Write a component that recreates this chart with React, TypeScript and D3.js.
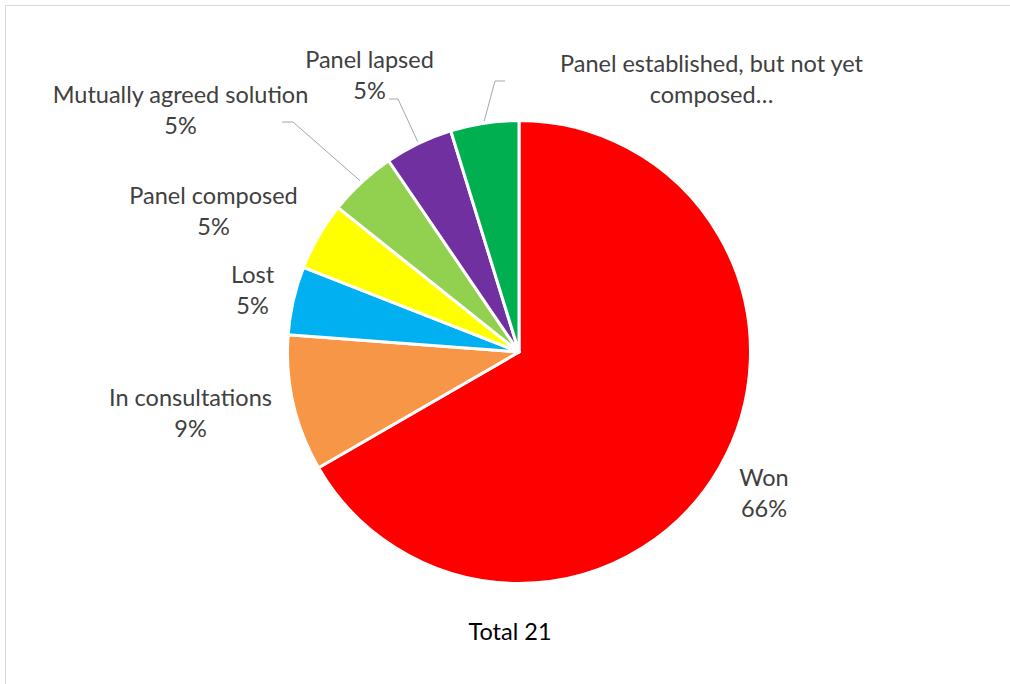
import React from "react";
import * as d3 from "d3";

const categories = [
  "Won",
  "In consultations",
  "Lost",
  "Panel composed",
  "Mutually agreed solution",
  "Panel lapsed",
  "Panel established, but not yet composed…",
];
const counts = [14, 2, 1, 1, 1, 1, 1];
const percentLabels = ["66%", "9%", "5%", "5%", "5%", "5%", "5%"];
const colors = ["#FF0000", "#F79646", "#00B0F0", "#FFFF00", "#92D050", "#7030A0", "#00B050"];
const totalLabel = "Total 21";

// label layout (text lines, center x, first baseline, optional leader start)
const labelLayout = [
  { lines: ["Won", "66%"], x: 764, y: 486, leader: null },
  { lines: ["In consultations", "9%"], x: 190.5, y: 406, leader: null },
  { lines: ["Lost", "5%"], x: 252.5, y: 283, leader: null },
  { lines: ["Panel composed", "5%"], x: 213.5, y: 204, leader: null },
  { lines: ["Mutually agreed solution", "5%"], x: 180.5, y: 103, leader: [[282, 122], [293, 122]] },
  { lines: ["Panel lapsed", "5%"], x: 369.5, y: 68, leader: [[389, 99], [398, 99]] },
  { lines: ["Panel established, but not yet", "composed…"], x: 711.5, y: 72, leader: [[505, 81], [495, 81]] },
];

const W = 1010;
const H = 684;
const cx = 519;
const cy = 352;
const R = 231.5;
const FONT = "Lato, 'Open Sans', sans-serif";

export default function App() {
  const data = categories.map((c, i) => ({ name: c, value: counts[i], color: colors[i], pct: percentLabels[i] }));
  const pie = d3.pie<any>().value((d) => d.value).sort(null).startAngle(0).endAngle(2 * Math.PI);
  const arcs = pie(data);
  const arc = d3.arc<any>().innerRadius(0).outerRadius(R);

  return (
    <svg
      width={W}
      height={H}
      style={{ position: "absolute", left: 0, top: 0, background: "#fff" }}
    >
      <rect x={5.5} y={5.5} width={W + 10} height={H + 10} fill="#fff" stroke="#D9D9D9" strokeWidth={1} />
      <g transform={`translate(${cx},${cy})`}>
        {arcs.map((a, i) => (
          <path key={i} d={arc(a) || ""} fill={a.data.color} stroke="#fff" strokeWidth={3} strokeLinejoin="round" />
        ))}
      </g>
      {arcs.map((a, i) => {
        const lay = labelLayout[i];
        if (!lay.leader) return null;
        const mid = (a.startAngle + a.endAngle) / 2;
        const ex = cx + (R + 2) * Math.sin(mid);
        const ey = cy - (R + 2) * Math.cos(mid);
        const pts = [...lay.leader, [ex, ey]] as [number, number][];
        return (
          <path
            key={"l" + i}
            d={d3.line()(pts) || ""}
            fill="none"
            stroke="#A6A6A6"
            strokeWidth={1}
          />
        );
      })}
      {labelLayout.map((lay, i) => (
        <text
          key={"t" + i}
          x={lay.x}
          y={lay.y}
          textAnchor="middle"
          fontFamily={FONT}
          fontSize={23.5}
          fill="#404040"
        >
          {lay.lines.map((ln, j) => (
            <tspan key={j} x={lay.x} y={lay.y + j * 31}>
              {ln}
            </tspan>
          ))}
        </text>
      ))}
      <text x={510} y={640} textAnchor="middle" fontFamily={FONT} fontSize={23.5} fill="#000">
        {totalLabel}
      </text>
    </svg>
  );
}
